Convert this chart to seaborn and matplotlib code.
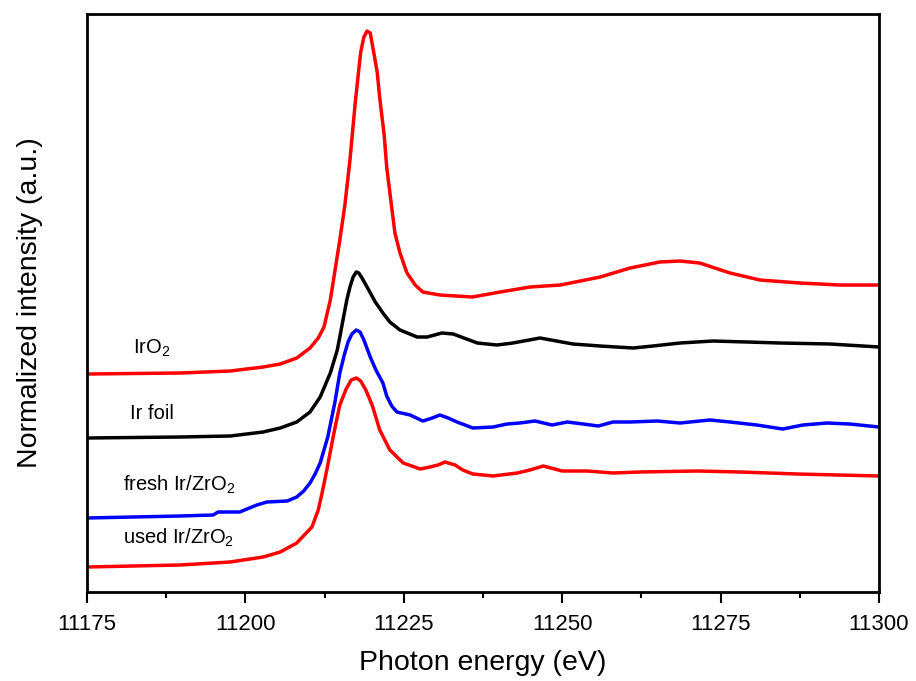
import matplotlib
matplotlib.use("Agg")
import matplotlib.pyplot as plt
import seaborn as sns
import pandas as pd
from matplotlib.ticker import MultipleLocator

# ---------------- data ----------------
iro2_e = [11175.0, 11189.7, 11197.6, 11202.8, 11205.5, 11208.1, 11210.2, 11211.5, 11212.4,
          11213.4, 11214.1, 11214.9, 11215.7, 11216.5, 11217.3, 11217.8, 11218.2, 11218.7,
          11219.2, 11219.7, 11220.1, 11220.8, 11221.2, 11221.9, 11222.3, 11223.0, 11223.6,
          11224.4, 11225.5, 11226.8, 11228.0, 11230.7, 11235.8, 11240.2, 11244.9, 11249.7,
          11256.0, 11260.7, 11265.4, 11268.6, 11271.7, 11276.5, 11281.2, 11287.5, 11293.8,
          11300.0]
iro2_i = [1.09, 1.095, 1.105, 1.125, 1.14, 1.17, 1.22, 1.27, 1.325,
          1.46, 1.60, 1.76, 1.935, 2.16, 2.435, 2.585, 2.70, 2.775,
          2.805, 2.795, 2.725, 2.60, 2.47, 2.285, 2.125, 1.945, 1.795,
          1.695, 1.595, 1.535, 1.50, 1.485, 1.475, 1.50, 1.525, 1.535,
          1.575, 1.62, 1.65, 1.655, 1.645, 1.595, 1.56, 1.545, 1.535,
          1.535]

foil_e = [11175.0, 11189.7, 11197.6, 11202.8, 11205.5, 11208.1, 11210.2, 11211.8, 11213.4,
          11214.5, 11214.9, 11215.4, 11216.0, 11216.5, 11217.0, 11217.5, 11217.9, 11218.4,
          11219.2, 11220.5, 11221.7, 11222.8, 11224.4, 11227.1, 11228.7, 11231.0, 11232.8,
          11236.6, 11239.7, 11242.2, 11246.5, 11251.7, 11256.0, 11261.2, 11264.3, 11268.6,
          11273.8, 11279.2, 11284.4, 11292.3, 11300.0]
foil_i = [0.77, 0.775, 0.78, 0.80, 0.82, 0.85, 0.90, 0.975, 1.095,
          1.21, 1.275, 1.36, 1.46, 1.525, 1.575, 1.60, 1.595, 1.57,
          1.525, 1.45, 1.395, 1.35, 1.31, 1.275, 1.275, 1.295, 1.29,
          1.245, 1.235, 1.245, 1.27, 1.24, 1.23, 1.22, 1.23, 1.245,
          1.255, 1.25, 1.245, 1.24, 1.225]

fresh_e = [11175.0, 11189.7, 11194.9, 11195.7, 11199.1, 11201.8, 11203.4, 11206.6, 11208.1,
           11209.2, 11210.2, 11211.0, 11211.8, 11213.0, 11214.1, 11214.9, 11215.6, 11216.2,
           11216.8, 11217.5, 11218.1, 11218.7, 11219.7, 11220.6, 11221.7, 11222.3, 11223.1,
           11223.9, 11226.0, 11228.0, 11229.5, 11230.7, 11232.0, 11233.4, 11235.9, 11239.1,
           11241.3, 11243.3, 11245.7, 11248.4, 11250.8, 11253.3, 11255.7, 11258.0, 11260.7,
           11265.0, 11268.6, 11273.3, 11276.5, 11280.7, 11284.8, 11288.0, 11291.8, 11295.4,
           11300.0]
fresh_i = [0.37, 0.38, 0.385, 0.40, 0.40, 0.435, 0.45, 0.455, 0.475,
           0.505, 0.545, 0.59, 0.645, 0.775, 0.945, 1.095, 1.185, 1.25,
           1.29, 1.31, 1.30, 1.26, 1.175, 1.11, 1.045, 0.98, 0.93,
           0.90, 0.885, 0.855, 0.87, 0.885, 0.87, 0.85, 0.82, 0.825,
           0.84, 0.845, 0.855, 0.835, 0.85, 0.84, 0.83, 0.85, 0.85,
           0.855, 0.845, 0.86, 0.85, 0.835, 0.815, 0.835, 0.845, 0.84,
           0.825]

used_e = [11175.0, 11189.7, 11197.6, 11202.8, 11205.5, 11208.1, 11210.5, 11211.5, 11212.2,
          11213.0, 11214.0, 11214.9, 11215.9, 11216.7, 11217.5, 11218.2, 11219.0, 11220.0,
          11221.2, 11222.8, 11224.9, 11227.6, 11229.1, 11230.4, 11231.5, 11233.1, 11234.3,
          11235.9, 11239.1, 11242.9, 11244.9, 11247.0, 11250.0, 11253.9, 11258.0, 11262.3,
          11271.3, 11278.1, 11287.1, 11300.0]
used_i = [0.125, 0.135, 0.15, 0.175, 0.20, 0.245, 0.325, 0.41, 0.51,
          0.635, 0.80, 0.935, 1.015, 1.06, 1.07, 1.055, 1.01, 0.935,
          0.81, 0.71, 0.645, 0.615, 0.625, 0.635, 0.65, 0.635, 0.61,
          0.59, 0.58, 0.595, 0.61, 0.63, 0.605, 0.605, 0.595, 0.60,
          0.605, 0.60, 0.59, 0.58]

labels = ["IrO$_2$", "Ir foil", "fresh Ir/ZrO$_2$", "used Ir/ZrO$_2$"]
label_e = [11182.3, 11181.8, 11180.7, 11180.7]
label_i = [1.22, 0.895, 0.535, 0.27]
x_ticks = [11175, 11200, 11225, 11250, 11275, 11300]

# ---------------- plotting ----------------
sns.set_theme(style="ticks")
plt.rcParams["font.family"] = ["Liberation Sans", "DejaVu Sans"]
plt.rcParams["mathtext.default"] = "regular"

fig = plt.figure(figsize=(9.16, 6.81), dpi=100)
ax = fig.add_axes([0.095, 0.1307, 0.8646, 0.8487])

series = [(iro2_e, iro2_i, "#ff0000"), (foil_e, foil_i, "#000000"),
          (fresh_e, fresh_i, "#0000ff"), (used_e, used_i, "#ff0000")]
for e, i, c in series:
    df = pd.DataFrame({"E": e, "I": i})
    sns.lineplot(data=df, x="E", y="I", ax=ax, color=c, linewidth=2.5,
                 sort=False, estimator=None)

for t, x, y in zip(labels, label_e, label_i):
    ax.text(x, y, t, fontsize=14.5, va="center", ha="left", color="black")

ax.set_xlim(11175, 11300)
ax.set_ylim(0, 2.89)
ax.set_xticks(x_ticks)
ax.xaxis.set_minor_locator(MultipleLocator(12.5))
ax.set_yticks([])
ax.tick_params(axis="x", which="major", direction="out", length=8, width=1.5,
               labelsize=16, pad=8, colors="black")
ax.tick_params(axis="x", which="minor", direction="out", length=4, width=1.5,
               colors="black")
for s in ax.spines.values():
    s.set_visible(True)
    s.set_linewidth(2)
    s.set_color("black")
ax.set_xlabel("Photon energy (eV)", fontsize=20.5, labelpad=11, color="black")
ax.set_ylabel("Normalized intensity (a.u.)", fontsize=20.5, labelpad=32, color="black")

fig.savefig("out.png", dpi=100)
